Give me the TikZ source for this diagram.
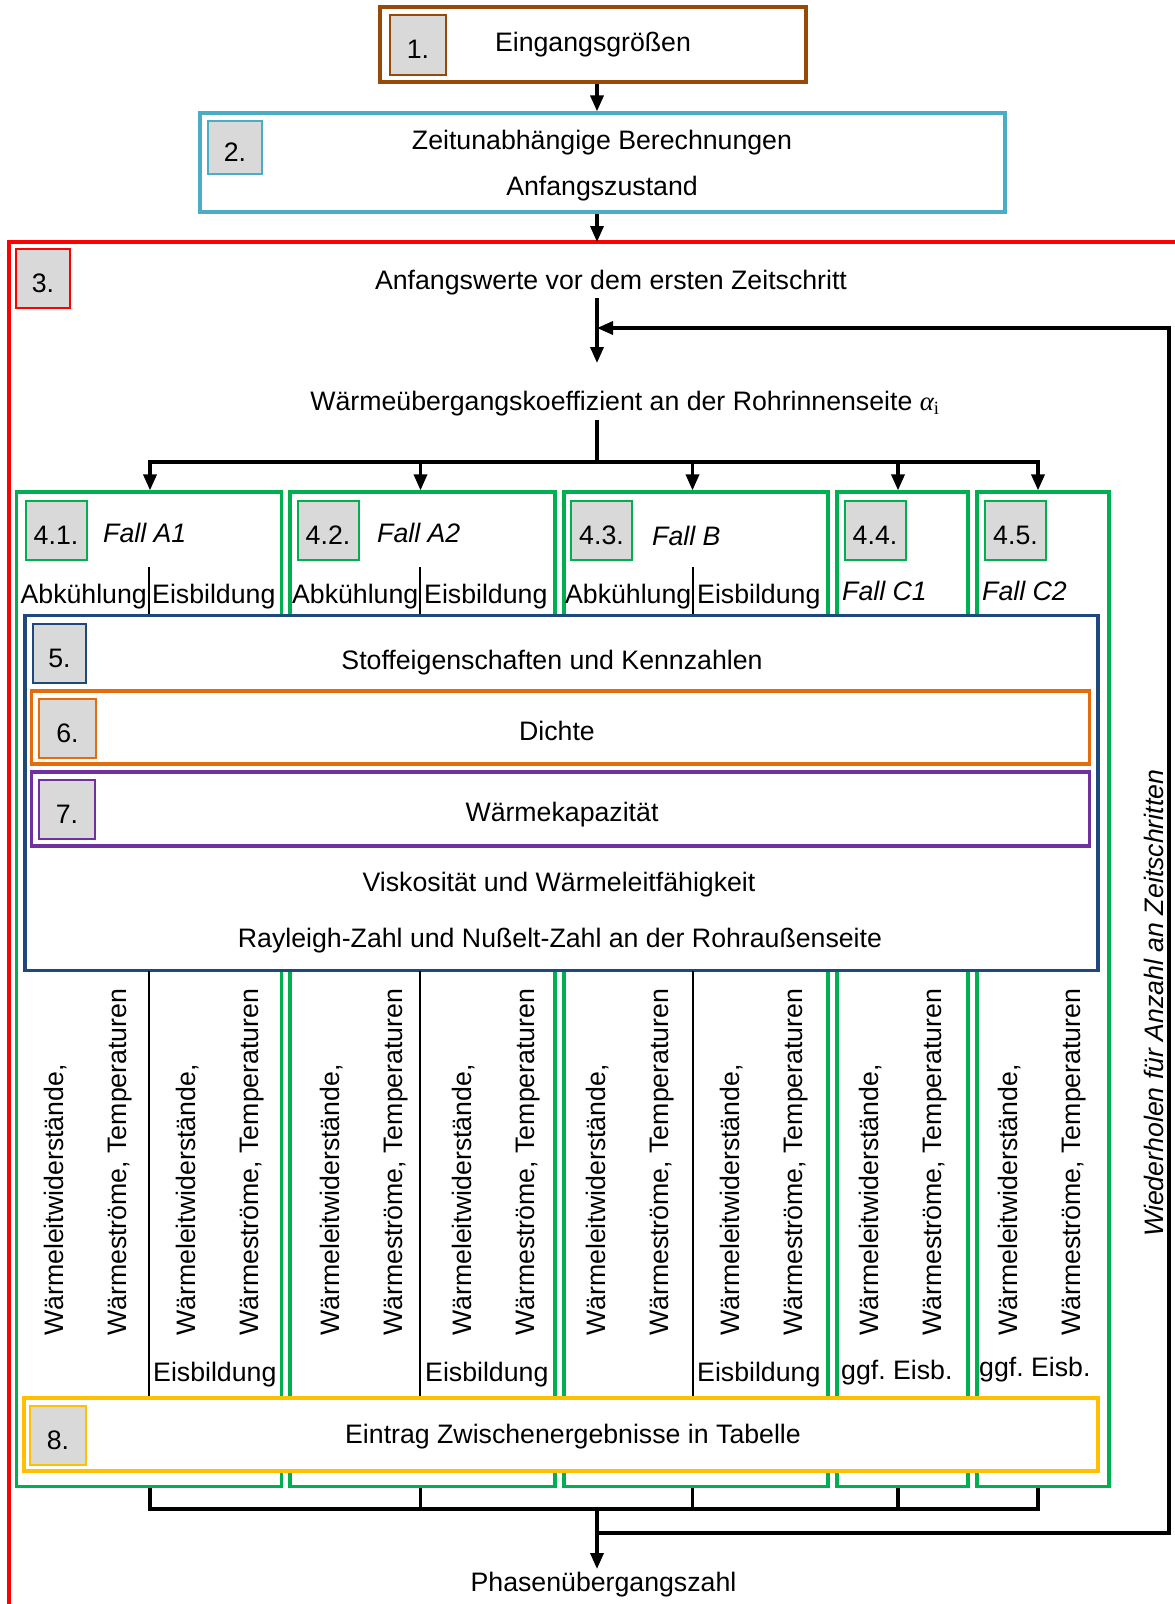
\documentclass[tikz,border=0pt]{standalone}
\usepackage{fontspec}
\setmainfont{Liberation Sans}
\newfontfamily\greekserif{Liberation Serif}
\usepackage{amsmath}
\usepackage{xcolor}
\usepackage{tikz}
\usetikzlibrary{arrows.meta}

\definecolor{brownbox}{HTML}{984807}
\definecolor{cyanbox}{HTML}{4BACC6}
\definecolor{greenbox}{HTML}{00B050}
\definecolor{navybox}{HTML}{1F497D}
\definecolor{orangebox}{HTML}{E46C0A}
\definecolor{purplebox}{HTML}{7030A0}
\definecolor{yellowbox}{HTML}{FFC000}
\definecolor{numgray}{HTML}{D9D9D9}

\begin{document}
\begin{tikzpicture}[x=1pt,y=1pt,
    every node/.style={font=\fontsize{26.7}{32}\selectfont},
    fall/.style={font=\fontsize{26.7}{32}\selectfont\itshape},
    stepbox/.style={draw=#1,line width=3.2pt,inner sep=0pt},
    numbox/.style={draw=#1,fill=numgray,line width=2pt,inner sep=0pt,
        minimum width=56pt,minimum height=59pt,text height=27pt,text depth=0pt},
    arr/.style={-{Triangle[length=16pt,width=13pt]},line width=3.4pt},
    link/.style={line width=3.4pt},
    sep/.style={line width=1.5pt},
    lbl/.style={inner sep=0pt,anchor=base west},
    rot/.style={inner sep=0pt,anchor=base west,rotate=90}]
    \useasboundingbox (0,0) rectangle (1175,-1604);
    \fill[white] (0,0) rectangle (1175,-1604);

    % 1. and 2.
    \node[stepbox=brownbox,minimum width=426pt,minimum height=75pt] (box1) at (593,-44.5) {Eingangsgrößen};
    \node[numbox=brownbox,minimum height=60pt] (n1) at (418,-45) {1.};
    \node[stepbox=cyanbox,minimum width=805pt,minimum height=99pt] (box2) at (602.5,-162.5) {};
    \node[numbox=cyanbox,minimum width=54pt,minimum height=53pt] (n2) at (235,-147.5) {2.};
    \node (zeit) at (602,-143) {Zeitunabhängige Berechnungen};
    \node (anf) at (602,-189) {Anfangszustand};

    % 3. time loop frame
    \draw[red,line width=3.2pt] (1180,-242) -- (9,-242) -- (9,-1610);
    \coordinate (redtop) at (597,-242);
    \node[numbox=red,minimum width=54pt] (n3) at (43,-278.5) {3.};
    \node (init) at (611,-282.5) {Anfangswerte vor dem ersten Zeitschritt};
    \coordinate (loopin) at (597,-328);
    \coordinate (alphain) at (597,-363);
    \node (alpha) at (625,-404) {Wärmeübergangskoeffizient an der Rohrinnenseite
        {\greekserif\itshape α\textsubscript{\upshape i}}};
    \coordinate (split) at (597,-462);

    % 4. cases
    \node[stepbox=greenbox,minimum width=264.5pt,minimum height=994.5pt] (gA1) at (149,-989.25) {};
    \node[stepbox=greenbox,minimum width=265pt,minimum height=994.5pt] (gA2) at (422.5,-989.25) {};
    \node[stepbox=greenbox,minimum width=264pt,minimum height=994.5pt] (gB) at (696,-989.25) {};
    \node[stepbox=greenbox,minimum width=131pt,minimum height=994.5pt] (gC1) at (902.5,-989.25) {};
    \node[stepbox=greenbox,minimum width=132pt,minimum height=994.5pt] (gC2) at (1043,-989.25) {};

    \node[numbox=greenbox,minimum width=61pt] (n41) at (56,-530.5) {4.1.};
    \node[numbox=greenbox,minimum width=61pt] (n42) at (328,-530.5) {4.2.};
    \node[numbox=greenbox,minimum width=61pt] (n43) at (601.5,-530.5) {4.3.};
    \node[numbox=greenbox,minimum width=61pt] (n44) at (875,-530.5) {4.4.};
    \node[numbox=greenbox,minimum width=61pt] (n45) at (1015.5,-530.5) {4.5.};
    \node[lbl,fall] (fA1) at (103,-542) {Fall A1};
    \node[lbl,fall] (fA2) at (377,-542) {Fall A2};
    \node[lbl,fall] (fB) at (652,-545) {Fall B};
    \node[lbl,fall] (fC1) at (842,-600) {Fall C1};
    \node[lbl,fall] (fC2) at (982,-600) {Fall C2};

    \node[lbl,anchor=base east] (abA1) at (147,-603) {Abkühlung};
    \node[lbl] (eiA1) at (152,-603) {Eisbildung};
    \node[lbl,anchor=base east] (abA2) at (418.5,-603) {Abkühlung};
    \node[lbl] (eiA2) at (424,-603) {Eisbildung};
    \node[lbl,anchor=base east] (abB) at (691.5,-603) {Abkühlung};
    \node[lbl] (eiB) at (697,-603) {Eisbildung};
    \draw[sep] (149,-567) -- (149,-616);
    \draw[sep] (420,-567) -- (420,-616);
    \draw[sep] (693,-567) -- (693,-616);

    % 5. to 7.
    \node[stepbox=navybox,fill=white,minimum width=1073pt,minimum height=355pt] (box5) at (561.5,-793.25) {};
    \node[numbox=navybox,minimum width=53pt] (n5) at (59.5,-653.5) {5.};
    \node (stoff) at (552,-662.5) {Stoffeigenschaften und Kennzahlen};
    \node[stepbox=orangebox,minimum width=1058pt,minimum height=73pt] (box6) at (560.5,-727.5) {};
    \node[numbox=orangebox,minimum width=57pt] (n6) at (67.5,-728.5) {6.};
    \node (dichte) at (557,-731) {Dichte};
    \node[stepbox=purplebox,minimum width=1058pt,minimum height=74pt] (box7) at (560.5,-809) {};
    \node[numbox=purplebox] (n7) at (67,-809.5) {7.};
    \node (kap) at (562,-814.5) {Wärmekapazität};
    \node (visk) at (559,-884.5) {Viskosität und Wärmeleitfähigkeit};
    \node (rayl) at (560,-940.5) {Rayleigh-Zahl und Nußelt-Zahl an der Rohraußenseite};

    % resistances per case
    \draw[sep] (149,-971) -- (149,-1398);
    \draw[sep] (420,-971) -- (420,-1398);
    \draw[sep] (693,-971) -- (693,-1398);
    \foreach \x/\n in {63/1,195/2,339/3,471/4,605/5,739/6,878/7,1017/8} {
        \node[rot] (wl\n) at (\x,-1336) {Wärmeleitwiderstände,};
        \node[rot] (ws\n) at (\x+63,-1336) {Wärmeströme, Temperaturen};
    }
    \node[lbl] (esA1) at (153,-1381) {Eisbildung};
    \node[lbl] (esA2) at (425,-1381) {Eisbildung};
    \node[lbl] (esB) at (697,-1381) {Eisbildung};
    \node[lbl] (esC1) at (841,-1379.5) {ggf.\ Eisb.};
    \node[lbl] (esC2) at (979,-1376.5) {ggf.\ Eisb.};

    % 8.
    \node[stepbox=yellowbox,fill=white,minimum width=1074pt,minimum height=73pt] (box8) at (561,-1434.5) {};
    \node[numbox=yellowbox] (n8) at (58,-1435.5) {8.};
    \node (eintrag) at (573,-1437) {Eintrag Zwischenergebnisse in Tabelle};

    \node (phase) at (603.5,-1585) {Phasenübergangszahl};
    \node[rot,fall] (repeat) at (1163,-1237) {Wiederholen für Anzahl an Zeitschritten};
    \coordinate (join) at (597,-1509);
    \coordinate (back) at (597,-1533);

    % Flow arrows
    \draw[arr] (box1.south -| redtop) -- (box2.north -| redtop);
    \draw[arr] (box2.south -| redtop) -- (redtop);
    \draw[arr] (init.south -| alphain) -- (alphain);
    \draw[link] (alpha.south -| split) -- (split);
    \foreach \g/\dx in {gA1/1,gA2/-2,gB/-3.5,gC1/-4.5,gC2/-5} {
        \draw[arr] (split) -| ([xshift=\dx pt]\g.north);
        \draw[link] ([xshift=\dx pt]\g.south) |- (join);
    }
    \draw[arr] (join) -- (join |- phase.north);
    \draw[arr] (back) -- ++(572,0) |- (loopin);
\end{tikzpicture}
\end{document}
